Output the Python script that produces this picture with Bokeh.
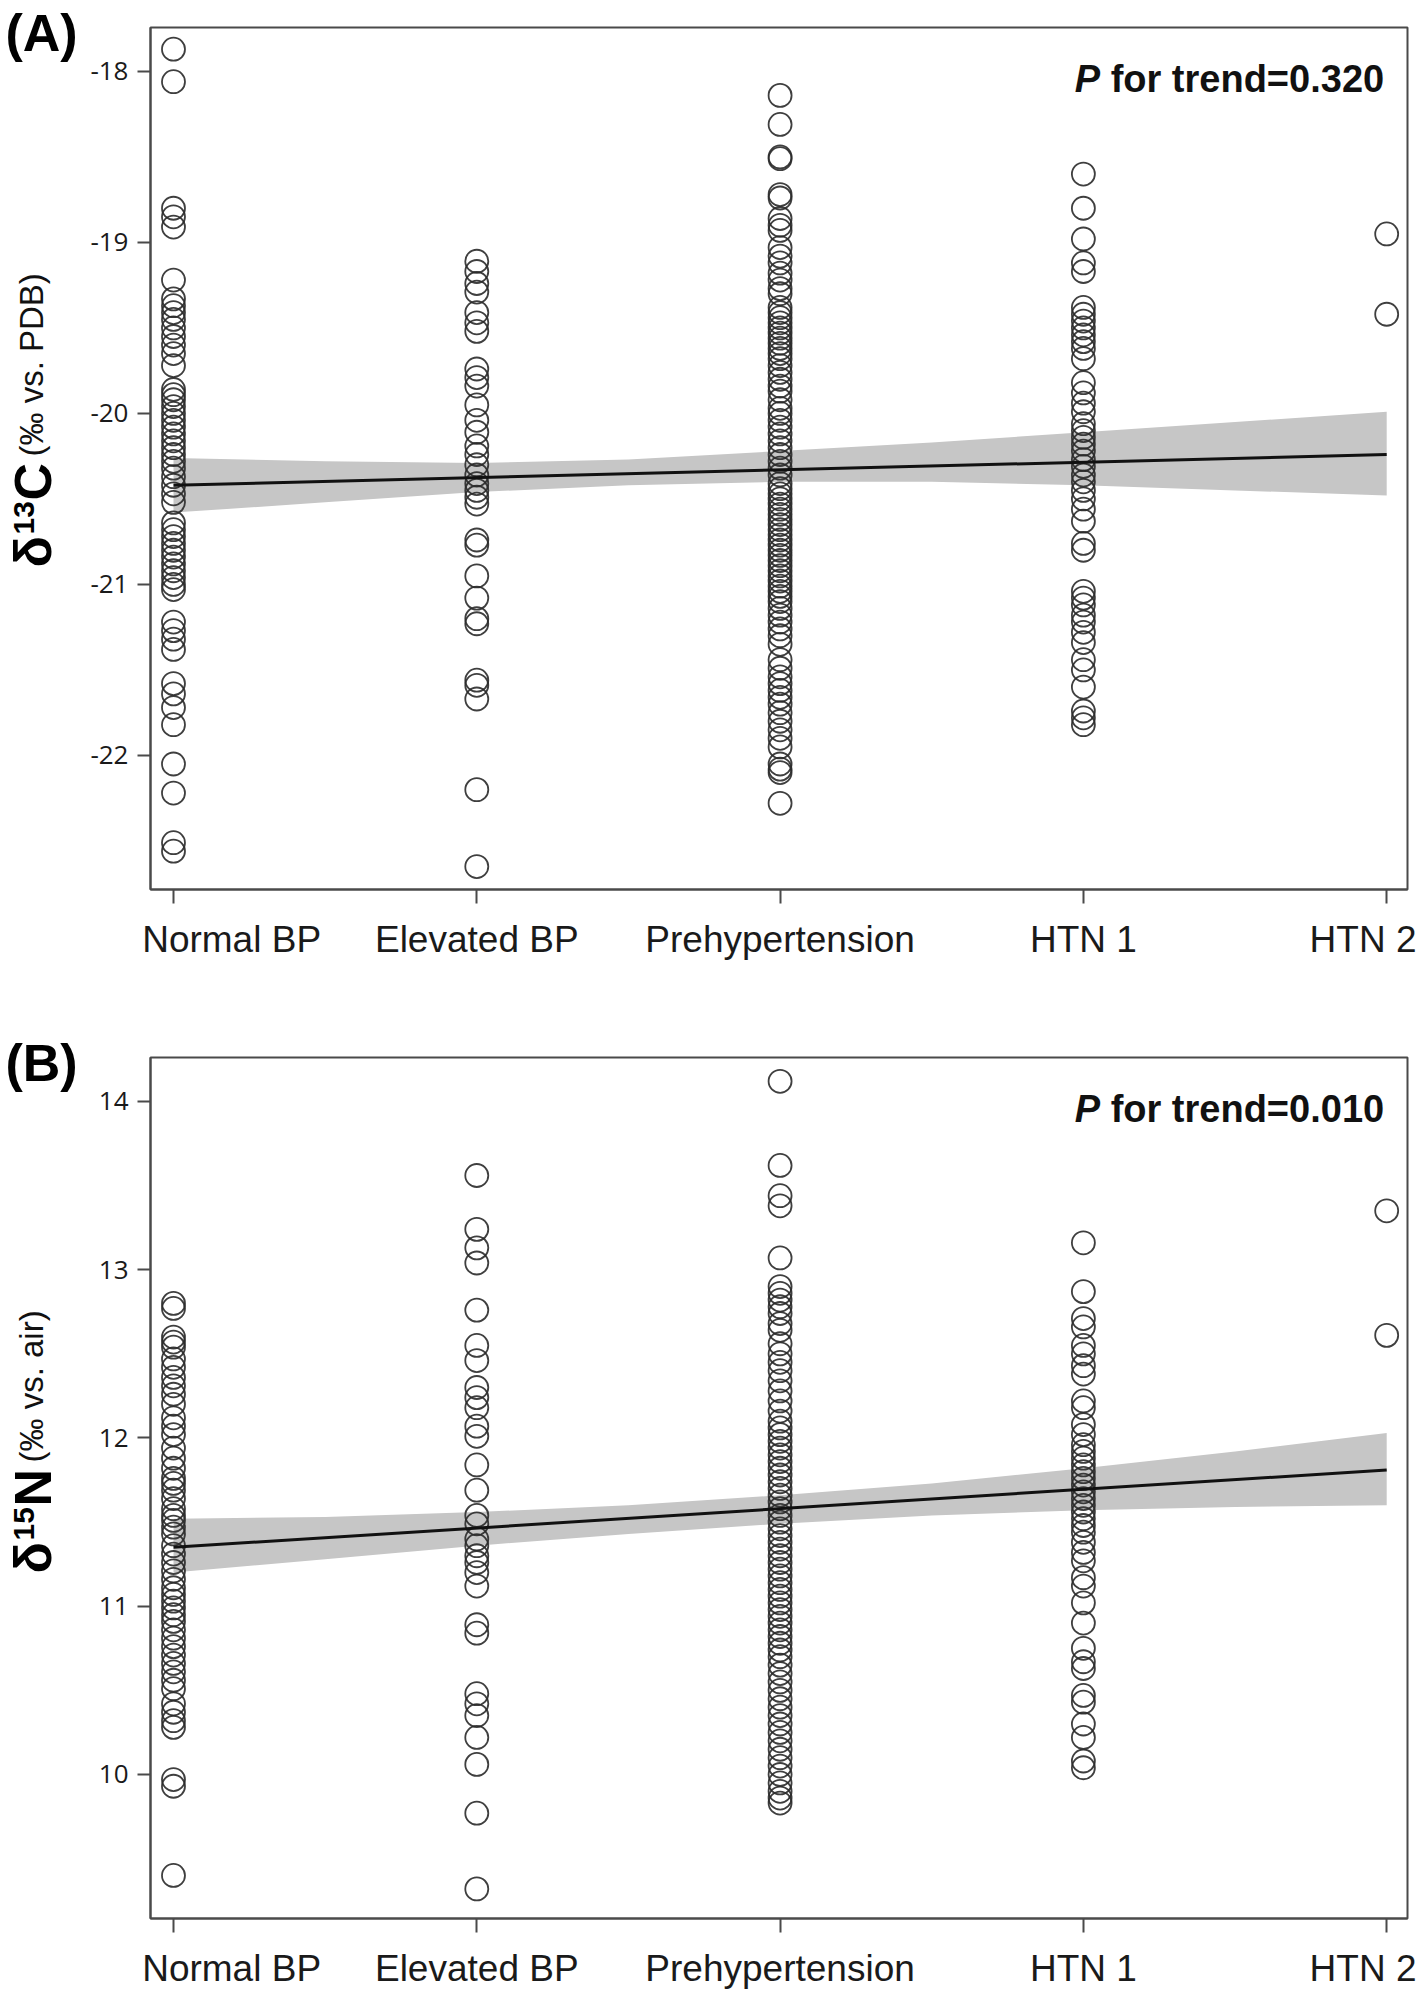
import math
from bokeh.plotting import figure
from bokeh.models import Label, FixedTicker, Range1d
from bokeh.layouts import column, row
from bokeh.core.properties import value
from bokeh.embed import file_html
from bokeh.resources import INLINE

categories = ["Normal BP", "Elevated BP", "Prehypertension", "HTN 1", "HTN 2"]

a_normal = [-17.87, -18.06, -18.80, -18.85, -18.91, -19.22, -19.33, -19.37, -19.41, -19.45, -19.50,
            -19.55, -19.60, -19.65, -19.72, -19.86, -19.89, -19.92, -19.96, -20.00, -20.04, -20.08,
            -20.12, -20.16, -20.20, -20.24, -20.28, -20.32, -20.37, -20.42, -20.47, -20.52, -20.64,
            -20.68, -20.72, -20.76, -20.80, -20.84, -20.88, -20.92, -20.96, -21.00, -21.03, -21.22,
            -21.27, -21.32, -21.38, -21.58, -21.64, -21.72, -21.82, -22.05, -22.22, -22.51, -22.56]
a_elevated = [-19.11, -19.17, -19.24, -19.29, -19.41, -19.47, -19.52, -19.74, -19.79, -19.84, -19.95,
              -20.04, -20.11, -20.19, -20.24, -20.30, -20.36, -20.41, -20.45, -20.49, -20.53, -20.74,
              -20.77, -20.95, -21.08, -21.20, -21.23, -21.56, -21.59, -21.67, -22.20, -22.65]
a_prehyp = [-18.14, -18.31, -18.50, -18.51, -18.72, -18.74, -18.86, -18.90, -18.93, -19.03, -19.08,
            -19.12, -19.18, -19.22, -19.27, -19.30, -19.38, -19.41, -19.44, -19.47, -19.50, -19.53,
            -19.56, -19.59, -19.62, -19.65, -19.68, -19.72, -19.76, -19.80, -19.84, -19.87, -19.92,
            -19.97, -20.00, -20.04, -20.08, -20.12, -20.16, -20.20, -20.24, -20.28, -20.32, -20.36,
            -20.41, -20.44, -20.47, -20.50, -20.53, -20.56, -20.59, -20.62, -20.65, -20.68, -20.71,
            -20.74, -20.77, -20.80, -20.83, -20.86, -20.89, -20.92, -20.95, -20.98, -21.01, -21.04,
            -21.07, -21.10, -21.14, -21.18, -21.22, -21.26, -21.30, -21.35, -21.44, -21.49, -21.54,
            -21.58, -21.62, -21.66, -21.70, -21.75, -21.80, -21.85, -21.90, -21.95, -22.05, -22.08,
            -22.10, -22.28]
a_htn1 = [-18.60, -18.80, -18.98, -19.12, -19.17, -19.38, -19.42, -19.46, -19.50, -19.54, -19.58,
          -19.62, -19.68, -19.82, -19.88, -19.94, -19.99, -20.06, -20.10, -20.14, -20.18, -20.22,
          -20.27, -20.31, -20.36, -20.40, -20.45, -20.50, -20.56, -20.63, -20.76, -20.80, -21.04,
          -21.08, -21.12, -21.18, -21.22, -21.28, -21.34, -21.44, -21.50, -21.60, -21.74, -21.78,
          -21.82]
a_htn2 = [-18.95, -19.42]

a_fit_x = [0, 4]
a_fit_y = [-20.42, -20.24]
band_x = [0, 0.5, 1, 1.5, 2, 2.5, 3, 3.5, 4]
a_band_upper = [-20.26, -20.28, -20.29, -20.27, -20.22, -20.17, -20.11, -20.05, -19.99]
a_band_lower = [-20.58, -20.52, -20.46, -20.42, -20.40, -20.40, -20.42, -20.45, -20.48]
a_yticks = [-18, -19, -20, -21, -22]
a_ytick_labels = ["-18", "-19", "-20", "-21", "-22"]
a_p_text = "0.320"

b_normal = [12.80, 12.77, 12.60, 12.57, 12.54, 12.47, 12.42, 12.36, 12.31, 12.26, 12.20, 12.12, 12.07,
            12.02, 11.94, 11.88, 11.82, 11.76, 11.73, 11.69, 11.64, 11.58, 11.54, 11.51, 11.47, 11.43,
            11.36, 11.31, 11.26, 11.21, 11.16, 11.11, 11.07, 11.03, 10.99, 10.95, 10.91, 10.86, 10.81,
            10.76, 10.71, 10.66, 10.61, 10.56, 10.51, 10.42, 10.37, 10.32, 10.28, 9.97, 9.93, 9.40]
b_elevated = [13.56, 13.24, 13.13, 13.04, 12.76, 12.55, 12.46, 12.30, 12.24, 12.18, 12.07, 12.01, 11.84,
              11.69, 11.54, 11.49, 11.40, 11.36, 11.30, 11.26, 11.20, 11.12, 10.89, 10.84, 10.48, 10.42,
              10.35, 10.22, 10.06, 9.77, 9.32]
b_prehyp = [14.12, 13.62, 13.44, 13.38, 13.07, 12.90, 12.86, 12.82, 12.78, 12.74, 12.68, 12.64, 12.56,
            12.50, 12.45, 12.40, 12.34, 12.28, 12.22, 12.16, 12.10, 12.06, 12.02, 11.98, 11.94, 11.90,
            11.86, 11.82, 11.78, 11.74, 11.70, 11.66, 11.62, 11.58, 11.54, 11.50, 11.46, 11.42, 11.38,
            11.34, 11.30, 11.26, 11.22, 11.18, 11.14, 11.10, 11.06, 11.02, 10.98, 10.94, 10.90, 10.86,
            10.82, 10.78, 10.74, 10.70, 10.65, 10.60, 10.55, 10.50, 10.45, 10.40, 10.35, 10.30, 10.25,
            10.20, 10.15, 10.10, 10.05, 10.00, 9.95, 9.90, 9.86, 9.83]
b_htn1 = [13.16, 12.87, 12.71, 12.66, 12.55, 12.50, 12.43, 12.38, 12.22, 12.18, 12.08, 12.02, 11.96,
          11.92, 11.88, 11.84, 11.80, 11.76, 11.72, 11.68, 11.64, 11.60, 11.56, 11.52, 11.48, 11.44,
          11.38, 11.32, 11.27, 11.17, 11.12, 11.02, 10.90, 10.75, 10.67, 10.63, 10.47, 10.43, 10.30,
          10.22, 10.08, 10.04]
b_htn2 = [13.35, 12.61]

b_fit_x = [0, 4]
b_fit_y = [11.35, 11.81]
b_band_upper = [11.52, 11.53, 11.56, 11.60, 11.66, 11.73, 11.82, 11.92, 12.03]
b_band_lower = [11.20, 11.28, 11.36, 11.43, 11.49, 11.54, 11.57, 11.59, 11.60]
b_yticks = [10, 11, 12, 13, 14]
b_ytick_labels = ["10", "11", "12", "13", "14"]
b_p_text = "0.010"

AXIS_COLOR = "#4a4a4a"
TEXT_COLOR = "#1a1a1a"
LEFT_W = 80
MAIN_W = 1416 - LEFT_W
NBSP = "\u00a0"


def make_panel(groups, fit_x, fit_y, upper, lower, yticks, ytick_labels, y_range,
               height, border_top, border_bottom, p_value, p_y):
    p = figure(width=MAIN_W, height=height, x_range=Range1d(-0.0758, 4.0686),
               y_range=Range1d(*y_range), output_backend="svg", toolbar_location=None,
               min_border_left=150 - LEFT_W, min_border_right=9,
               min_border_top=border_top, min_border_bottom=border_bottom,
               frame_align=False)
    p.xgrid.visible = False
    p.ygrid.visible = False
    p.outline_line_color = AXIS_COLOR
    p.outline_line_width = 2

    p.varea(x=band_x, y1=lower, y2=upper, fill_color="#c6c6c6", fill_alpha=1.0)
    for i, vals in enumerate(groups):
        p.scatter(x=[i] * len(vals), y=vals, marker="circle", size=23,
                  fill_color=None, line_color="#2a2a2a", line_width=1.8, line_alpha=0.9)
    p.line(x=fit_x, y=fit_y, line_color="#111111", line_width=3)

    xa = p.xaxis[0]
    xa.ticker = FixedTicker(ticks=list(range(len(categories))))
    labels = {i: c for i, c in enumerate(categories)}
    # first label sits flush with the frame's left edge, as in the original
    labels[0] = NBSP * 6 + categories[0]
    xa.major_label_overrides = labels
    xa.major_label_text_font = "Liberation Sans"
    xa.major_label_text_font_size = "37px"
    xa.major_label_text_color = TEXT_COLOR
    xa.major_label_standoff = 15
    xa.major_tick_out = 14
    xa.major_tick_in = 0
    xa.minor_tick_out = 0
    xa.minor_tick_in = 0
    xa.axis_line_color = AXIS_COLOR
    xa.axis_line_width = 2
    xa.major_tick_line_color = AXIS_COLOR
    xa.major_tick_line_width = 2

    ya = p.yaxis[0]
    ya.ticker = FixedTicker(ticks=yticks)
    ya.major_label_overrides = {t: l for t, l in zip(yticks, ytick_labels)}
    ya.major_label_text_font = "Open Sans"
    ya.major_label_text_font_size = "26px"
    ya.major_label_text_color = TEXT_COLOR
    ya.major_label_standoff = 9
    ya.major_tick_out = 13
    ya.major_tick_in = 0
    ya.minor_tick_out = 0
    ya.minor_tick_in = 0
    ya.axis_line_color = AXIS_COLOR
    ya.axis_line_width = 2
    ya.major_tick_line_color = AXIS_COLOR
    ya.major_tick_line_width = 2

    xp = (1074 - 173) / 303.25
    xf = (1110 - 173) / 303.25
    p.add_layout(Label(x=xp, y=p_y, text="P", text_font="Liberation Sans",
                       text_font_style="bold italic", text_font_size="38px",
                       text_color="#111111", text_align="left", text_baseline="middle"))
    p.add_layout(Label(x=xf, y=p_y, text="for trend=" + p_value, text_font="Liberation Sans",
                       text_font_style="bold", text_font_size="38px",
                       text_color="#111111", text_align="left", text_baseline="middle"))
    return p


def make_left(height, page_top, letter, letter_y, sym, sup, unit, y0):
    # strip left of the panel: data units equal page pixels (y negated)
    f = figure(width=LEFT_W, height=height, x_range=Range1d(0, LEFT_W),
               y_range=Range1d(-(page_top + height), -page_top),
               output_backend="svg", toolbar_location=None,
               x_axis_type=None, y_axis_type=None, frame_align=False,
               min_border_left=0, min_border_right=0, min_border_top=0, min_border_bottom=0)
    f.outline_line_color = None
    f.xgrid.visible = False
    f.ygrid.visible = False
    common = dict(text_align=value("left"), text_baseline=value("middle"))
    f.text(x=[5], y=[-letter_y], text=[letter], text_font=value("Liberation Sans"),
           text_font_style=value("bold"), text_font_size=value("52px"),
           text_color="#000000", **common)
    rot = math.pi / 2
    f.text(x=[32], y=[-y0], text=["δ"], angle=rot, text_font=value("Liberation Sans"),
           text_font_style=value("bold"), text_font_size=value("52px"),
           text_color="#000000", **common)
    f.text(x=[23], y=[-(y0 - 33)], text=[sup], angle=rot, text_font=value("Liberation Sans"),
           text_font_style=value("bold"), text_font_size=value("30px"),
           text_color="#000000", **common)
    f.text(x=[32], y=[-(y0 - 67)], text=[sym], angle=rot, text_font=value("Liberation Sans"),
           text_font_style=value("bold"), text_font_size=value("52px"),
           text_color="#000000", **common)
    f.text(x=[31], y=[-(y0 - 111)], text=[unit], angle=rot, text_font=value("Liberation Sans"),
           text_font_style=value("normal"), text_font_size=value("33px"),
           text_color="#111111", **common)
    return f


H1 = 1010
H2 = 1993 - H1

pA = make_panel([a_normal, a_elevated, a_prehyp, a_htn1, a_htn2], a_fit_x, a_fit_y,
                a_band_upper, a_band_lower, a_yticks, a_ytick_labels, (-22.784, -17.743),
                height=H1, border_top=27, border_bottom=H1 - 889,
                p_value=a_p_text, p_y=-18.0 - (79 - 71) / 171.0)
lA = make_left(H1, 0, "(A)", 32, "C", "13", "(‰ vs. PDB)", 567)

pB = make_panel([b_normal, b_elevated, b_prehyp, b_htn1, b_htn2], b_fit_x, b_fit_y,
                b_band_upper, b_band_lower, b_yticks, b_ytick_labels, (9.144, 14.2615),
                height=H2, border_top=1057 - H1, border_bottom=1993 - 1918,
                p_value=b_p_text, p_y=14.0 - (1109 - 1101) / 168.25)
lB = make_left(H2, H1, "(B)", 1062, "N", "15", "(‰ vs. air)", 1573)

layout = column(row(lA, pA, spacing=0), row(lB, pB, spacing=0), spacing=0)
open("out.html", "w").write(file_html(layout, INLINE))
